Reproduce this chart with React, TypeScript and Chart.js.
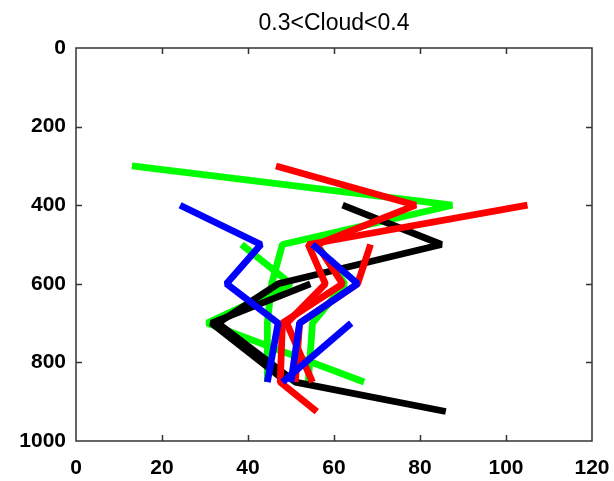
import React, { useEffect, useRef } from "react";
import { Chart, registerables } from "chart.js";
Chart.register(...registerables);

const titleText = "0.3<Cloud<0.4";
const levels = [300, 400, 500, 600, 700, 850, 925];
const xTicks = [0, 20, 40, 60, 80, 100, 120];
const yTicks = [0, 200, 400, 600, 800, 1000];

const green1 = [13, 87.5, 48, 45.5, 44.5, 44.5, null];
const green2 = [null, null, 38.5, 50, 30.5, 67, null];
const green3 = [null, null, 56, 62.5, 55, 54, null];

const black1 = [null, 62, 85, 47, 33, 51, 86];
const black2 = [null, null, null, 54.5, 31.5, 49, null];

const red1 = [46.5, 79, 56, 62, 48, 47.5, 56];
const red2 = [null, 105, 54, 58, 49, 55, null];
const red3 = [null, null, 68.5, 65.5, 52, 51, null];

const blue1 = [null, 24.2, 43, 35, 47, 44.5, null];
const blue2 = [null, null, 55, 65.5, 52, 50, null];
const blue3 = [null, null, null, null, 64, 48, null];

function toPoints(vals: (number | null)[]) {
  return levels
    .map((y, i) => ({ x: vals[i], y }))
    .filter((p) => p.x !== null) as { x: number; y: number }[];
}

function ds(vals: (number | null)[], color: string) {
  return {
    data: toPoints(vals),
    borderColor: color,
    backgroundColor: color,
    borderWidth: 6.8,
    pointRadius: 0,
    tension: 0,
    borderCapStyle: "butt" as const,
    borderJoinStyle: "bevel" as const,
    fill: false,
  };
}

const framePlugin = {
  id: "frame",
  afterDraw(chart: any) {
    const { ctx, chartArea } = chart;
    const { left, right, top, bottom } = chartArea;
    const xs = chart.scales.x;
    const ys = chart.scales.y;
    ctx.save();
    ctx.strokeStyle = "#333";
    ctx.lineWidth = 1.5;
    ctx.strokeRect(left, top, right - left, bottom - top);
    ctx.beginPath();
    xTicks.slice(1, -1).forEach((v) => {
      const px = Math.round(xs.getPixelForValue(v)) + 0.5;
      ctx.moveTo(px, bottom);
      ctx.lineTo(px, bottom - 6);
      ctx.moveTo(px, top);
      ctx.lineTo(px, top + 6);
    });
    yTicks.slice(1, -1).forEach((v) => {
      const py = Math.round(ys.getPixelForValue(v)) + 0.5;
      ctx.moveTo(left, py);
      ctx.lineTo(left + 6, py);
      ctx.moveTo(right, py);
      ctx.lineTo(right - 6, py);
    });
    ctx.stroke();
    ctx.fillStyle = "#000";
    ctx.font = "23px 'Liberation Sans', Arial, sans-serif";
    ctx.textAlign = "center";
    ctx.textBaseline = "alphabetic";
    ctx.fillText(titleText, (left + right) / 2, 30);
    ctx.restore();
  },
};

export default function App() {
  const ref = useRef<HTMLCanvasElement | null>(null);
  useEffect(() => {
    if (!ref.current) return;
    const tickFont = { family: "'Liberation Sans', Arial, sans-serif", size: 21, weight: "bold" as const };
    const chart = new Chart(ref.current, {
      type: "line",
      data: {
        datasets: [
          ds(blue1, "#0000ff"),
          ds(blue2, "#0000ff"),
          ds(blue3, "#0000ff"),
          ds(red1, "#ff0000"),
          ds(red2, "#ff0000"),
          ds(red3, "#ff0000"),
          ds(black1, "#000000"),
          ds(black2, "#000000"),
          ds(green1, "#00ff00"),
          ds(green2, "#00ff00"),
          ds(green3, "#00ff00"),
        ],
      },
      options: {
        responsive: false,
        animation: false,
        devicePixelRatio: 1,
        layout: { padding: { top: 48, right: 22, left: 0, bottom: 0 } },
        plugins: { legend: { display: false }, tooltip: { enabled: false }, title: { display: false } },
        scales: {
          x: {
            type: "linear",
            min: 0,
            max: 120,
            afterBuildTicks: (s: any) => {
              s.ticks = xTicks.map((v) => ({ value: v }));
            },
            afterFit: (s: any) => {
              s.height = 40;
              s.paddingLeft = 0;
              s.paddingRight = 0;
            },
            ticks: {
              color: "#000",
              font: tickFont,
              padding: 15,
              maxRotation: 0,
              autoSkip: false,
              callback: (v: any) => String(v),
            },
            grid: { display: false, drawTicks: false },
            border: { display: false },
          },
          y: {
            type: "linear",
            reverse: true,
            min: 0,
            max: 1000,
            afterBuildTicks: (s: any) => {
              s.ticks = yTicks.map((v) => ({ value: v }));
            },
            afterFit: (s: any) => {
              s.width = 76;
              s.paddingTop = 0;
              s.paddingBottom = 0;
            },
            ticks: {
              color: "#000",
              font: tickFont,
              padding: 10,
              autoSkip: false,
              callback: (v: any) => String(v),
            },
            grid: { display: false, drawTicks: false },
            border: { display: false },
          },
        },
      },
      plugins: [framePlugin],
    });
    return () => chart.destroy();
  }, []);
  return (
    <div style={{ position: "absolute", left: 0, top: 0, width: 614, height: 481, background: "#fff" }}>
      <canvas ref={ref} width={614} height={481} />
    </div>
  );
}
